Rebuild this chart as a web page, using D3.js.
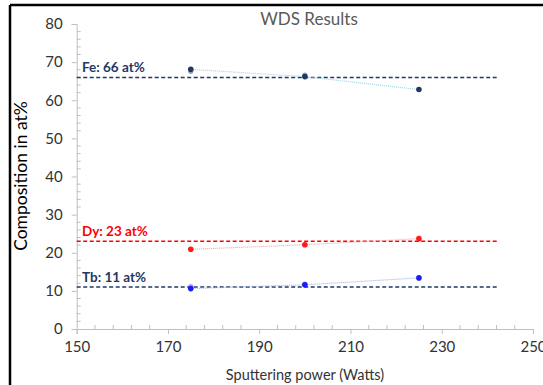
<!DOCTYPE html>
<html>
<head>
<meta charset="utf-8">
<script src="https://cdn.jsdelivr.net/npm/d3@7"></script>
<style>
  html, body { margin: 0; padding: 0; background: #fff; }
  svg { display: block; font-family: Lato, "Open Sans", sans-serif; }
</style>
</head>
<body>
<svg id="chart" width="543" height="385"></svg>
<script>
// Sputtering power settings (Watts)
const powers = [175, 200, 225];

// Measured composition (at%) per element
const feValues = [68.1, 66.2, 62.8];
const dyValues = [20.9, 22.1, 23.7];
const tbValues = [10.6, 11.6, 13.4];

// Repeat measurements that sit under the first ones
const repeatPowers = [175, 200];
const feRepeat = [67.6, 66.6];
const tbRepeat = [11.1, 11.8];

// Target compositions shown as dashed reference lines
const targets = [
  { label: "Fe: 66 at%", value: 66, color: "#1f3864" },
  { label: "Dy: 23 at%", value: 23, color: "#ff0000" },
  { label: "Tb: 11 at%", value: 11, color: "#1f3864" }
];

const xTicks = [150, 170, 190, 210, 230, 250];
const yTicks = [0, 10, 20, 30, 40, 50, 60, 70, 80];

const svg = d3.select("#chart");

// Outer frame (top and left edges)
svg.append("line").attr("x1", 10).attr("x2", 543).attr("y1", 5).attr("y2", 5)
  .attr("stroke", "#000").attr("stroke-width", 2.5);
svg.append("line").attr("x1", 10).attr("x2", 10).attr("y1", 5).attr("y2", 385)
  .attr("stroke", "#000").attr("stroke-width", 2.5);

const x = d3.scaleLinear().domain([150, 250]).range([76.7, 533]);
const y = d3.scaleLinear().domain([0, 80]).range([329, 24]);

const axisColor = "#bfbfbf";
const textColor = "#333333";

// Minor ticks
const xMinor = d3.range(150, 250.1, 4).filter(v => (v - 150) % 20 !== 0);
svg.append("g").selectAll("line").data(xMinor).join("line")
  .attr("x1", d => x(d)).attr("x2", d => x(d))
  .attr("y1", y(0)).attr("y2", y(0) - 4)
  .attr("stroke", axisColor);
const yMinor = d3.range(0, 80.1, 2).filter(v => v % 10 !== 0);
svg.append("g").selectAll("line").data(yMinor).join("line")
  .attr("x1", x(150)).attr("x2", x(150) + 4)
  .attr("y1", d => y(d)).attr("y2", d => y(d))
  .attr("stroke", axisColor);

// Axes
const xAxis = svg.append("g").attr("transform", `translate(0,${y(0)})`)
  .call(d3.axisBottom(x).tickValues(xTicks).tickSize(5).tickPadding(7).tickFormat(d3.format("d")));
const yAxis = svg.append("g").attr("transform", `translate(${x(150)},0)`)
  .call(d3.axisLeft(y).tickValues(yTicks).tickSize(5).tickPadding(9).tickFormat(d3.format("d")));
[xAxis, yAxis].forEach(g => {
  g.select(".domain").attr("stroke", axisColor);
  g.selectAll(".tick line").attr("stroke", axisColor);
  g.selectAll(".tick text").attr("fill", textColor)
    .style("font-size", "15px").style("font-family", "Lato, sans-serif");
});

// Titles
svg.append("text").attr("x", 309).attr("y", 25).attr("text-anchor", "middle")
  .attr("fill", "#595959").style("font-size", "17px").text("WDS Results");
svg.append("text").attr("x", 305).attr("y", 380).attr("text-anchor", "middle")
  .attr("fill", textColor).style("font-size", "14.5px").text("Sputtering power (Watts)");
svg.append("text").attr("transform", "translate(27,176) rotate(-90)")
  .attr("text-anchor", "middle").attr("fill", "#000")
  .style("font-size", "17.5px").text("Composition in at%");

// Target reference lines and labels
targets.forEach(t => {
  svg.append("line")
    .attr("x1", x(150)).attr("x2", x(242.5))
    .attr("y1", y(t.value)).attr("y2", y(t.value))
    .attr("stroke", t.color).attr("stroke-width", 1.5)
    .attr("stroke-dasharray", "4,2.5");
  svg.append("text").attr("x", 82).attr("y", y(t.value) - 5)
    .attr("fill", t.color).style("font-size", "13.5px").style("font-weight", "bold")
    .text(t.label);
});

// Measured series: faint dotted connector + markers
const series = [
  { values: feValues, line: "#9fd4ea", marker: "#1f3864" },
  { values: dyValues, line: "#f4a6a6", marker: "#ff1a1a" },
  { values: tbValues, line: "#9db7ef", marker: "#1a1aff" }
];
const lineGen = d3.line().x(d => x(d[0])).y(d => y(d[1]));

series.forEach(s => {
  const pts = powers.map((p, i) => [p, s.values[i]]);
  svg.append("path").attr("d", lineGen(pts))
    .attr("fill", "none").attr("stroke", s.line)
    .attr("stroke-width", 1.2).attr("stroke-dasharray", "1,1");
});

// Repeat measurements (lighter markers drawn underneath)
[{ values: feRepeat, color: "#6b7fa8" }, { values: tbRepeat, color: "#7a7aff" }].forEach(r => {
  svg.append("g").selectAll("circle").data(repeatPowers.map((p, i) => [p, r.values[i]])).join("circle")
    .attr("cx", d => x(d[0])).attr("cy", d => y(d[1])).attr("r", 2.6)
    .attr("fill", r.color).attr("opacity", 0.7);
});

series.forEach(s => {
  svg.append("g").selectAll("circle").data(powers.map((p, i) => [p, s.values[i]])).join("circle")
    .attr("cx", d => x(d[0])).attr("cy", d => y(d[1])).attr("r", 2.8)
    .attr("fill", s.marker);
});
</script>
</body>
</html>
